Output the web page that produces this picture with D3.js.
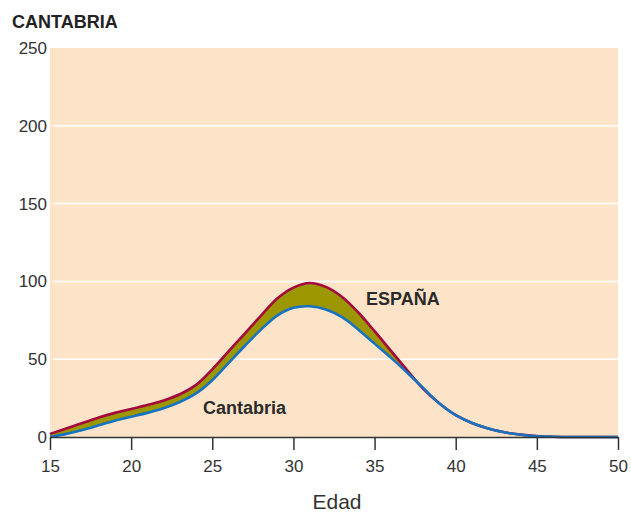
<!DOCTYPE html>
<html><head><meta charset="utf-8">
<script src="https://cdn.jsdelivr.net/npm/d3@7"></script>
<style>body{margin:0;background:#fff;}svg{display:block;font-family:"Liberation Sans",Arial,sans-serif;}</style>
</head><body>
<svg id="c" width="631" height="512"></svg>
<script>
const ages = [15,16,17,18,19,20,21,22,23,24,25,26,27,28,29,30,31,32,33,34,35,36,37,38,39,40,41,42,43,44,45,46,47,48,49,50];
const espana = [2,5.5,9,12.5,15.5,18,20.5,23.5,27.5,33.5,43.5,55,66.5,78,89,96,99,96.5,90,80,68,55.5,43,31,21.5,14,9,5.5,3,1.5,0.6,0.2,0,0,0,0];
const cantabria = [0,2,4.5,7.5,10.5,13,15.5,18.5,22.5,28,36.5,47.5,58.5,69,78,83,84,82,77,69,60,51,41.5,31.5,21.5,14,9,5.5,3,1.5,0.5,0.2,0,0,0,0];
const xTicks = [15,20,25,30,35,40,45,50];
const yTicks = [0,50,100,150,200,250];

const svg = d3.select("#c");
const x = d3.scaleLinear().domain([15,50]).range([50,618]);
const y = d3.scaleLinear().domain([0,250]).range([437,48]);

svg.append("rect").attr("x",x(15)).attr("y",y(250)).attr("width",x(50)-x(15)).attr("height",y(0)-y(250)).attr("fill","#fde4c9");

svg.append("g").selectAll("line").data(yTicks.filter(d=>d>0 && d<250)).join("line")
  .attr("x1",x(15)+3).attr("x2",x(50)).attr("y1",d=>y(d)).attr("y2",d=>y(d))
  .attr("stroke","#fff").attr("stroke-width",1.5);

const data = ages.map((a,i)=>({a, e:espana[i], c:cantabria[i]}));
const curve = d3.curveCatmullRom.alpha(0.5);
svg.append("path").datum(data)
  .attr("d", d3.area().x(d=>x(d.a)).y0(d=>y(d.c)).y1(d=>y(d.e)).curve(curve))
  .attr("fill","#9c9700");
svg.append("path").datum(data)
  .attr("d", d3.line().x(d=>x(d.a)).y(d=>y(d.e)).curve(curve))
  .attr("fill","none").attr("stroke","#a5083c").attr("stroke-width",2.6);
svg.append("path").datum(data)
  .attr("d", d3.line().x(d=>x(d.a)).y(d=>y(d.c)).curve(curve))
  .attr("fill","none").attr("stroke","#1673c1").attr("stroke-width",2.6);

const xa = svg.append("g").attr("transform",`translate(0,${y(0)})`)
  .call(d3.axisBottom(x).tickValues(xTicks).tickSize(13).tickSizeOuter(0).tickPadding(10));
xa.select(".domain").attr("stroke","#333").attr("stroke-width",1.5);
xa.selectAll(".tick line").attr("stroke","#333").attr("stroke-width",1.5);
xa.selectAll(".tick text").attr("fill","#333").attr("font-size",17).attr("font-family","Liberation Sans, Arial, sans-serif");

const ya = svg.append("g").attr("transform",`translate(${x(15)},0)`)
  .call(d3.axisLeft(y).tickValues(yTicks).tickSize(0).tickPadding(3));
ya.select(".domain").remove();
ya.selectAll(".tick text").attr("fill","#333").attr("font-size",17).attr("font-family","Liberation Sans, Arial, sans-serif");

svg.append("text").attr("x",12).attr("y",28).text("CANTABRIA")
  .attr("font-weight","bold").attr("font-size",18).attr("fill","#222");
svg.append("text").attr("x",337).attr("y",509).attr("text-anchor","middle").text("Edad")
  .attr("font-size",21).attr("fill","#333");
svg.append("text").attr("x",366).attr("y",305).text("ESPAÑA")
  .attr("font-weight","bold").attr("font-size",18).attr("fill","#2a2a2a");
svg.append("text").attr("x",203).attr("y",414).text("Cantabria")
  .attr("font-weight","bold").attr("font-size",18).attr("fill","#2a2a2a");
</script>
</body></html>
